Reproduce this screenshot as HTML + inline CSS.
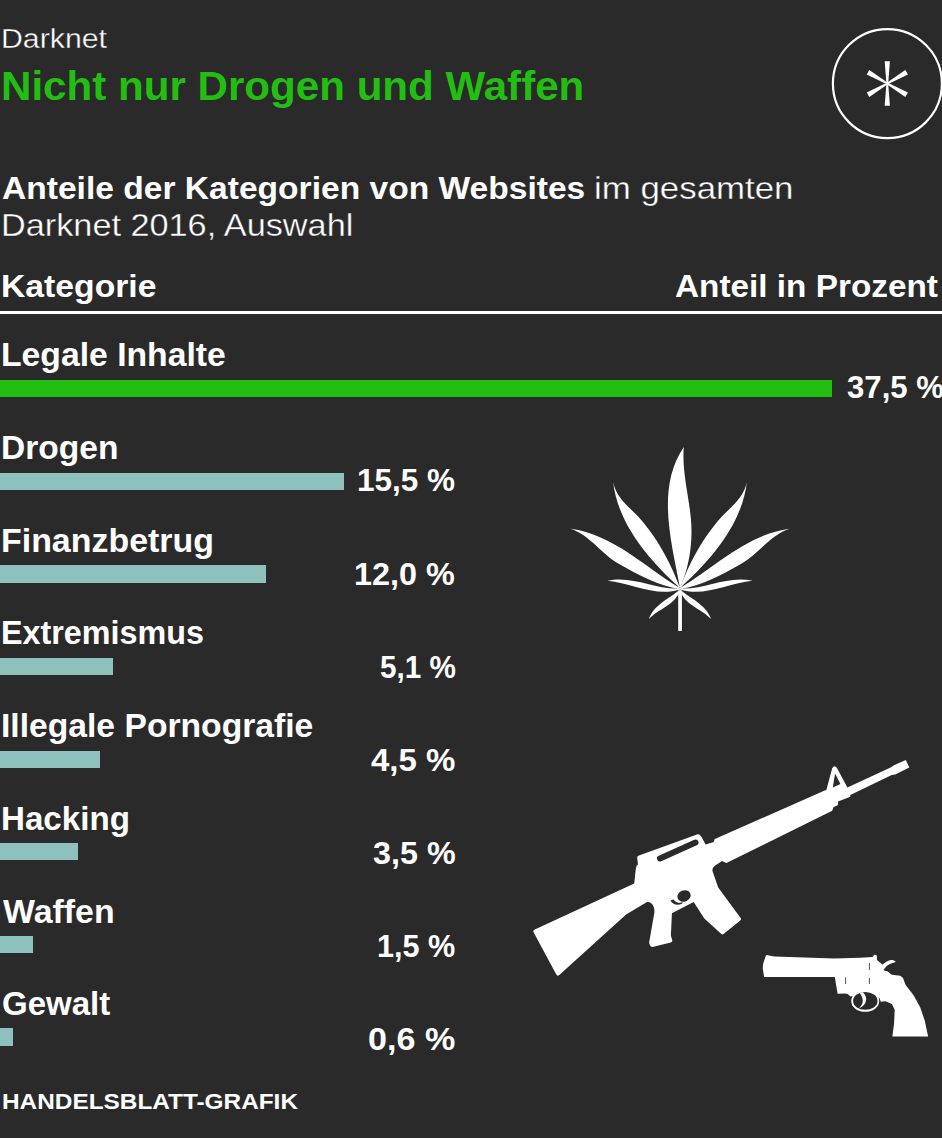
<!DOCTYPE html>
<html><head><meta charset="utf-8"><title>Darknet</title>
<style>
html,body{margin:0;padding:0;}
body{width:942px;height:1138px;background:#2a2a2a;position:relative;overflow:hidden;font-family:"Liberation Sans",sans-serif;color:#fff;}
.t{position:absolute;white-space:nowrap;line-height:1;transform-origin:0 0;}
.b{font-weight:700;}
.r{font-weight:400;-webkit-text-stroke:0.35px #2a2a2a;}
.bar{position:absolute;left:0;}
svg{position:absolute;left:0;top:0;}
</style></head><body>
<div class="t r" id="hd" style="left:0.54px;top:24.23px;font-size:28.20px;color:#fff;transform:scaleX(1.0743)">Darknet</div>
<div class="t b" id="title" style="left:1.26px;top:65.66px;font-size:40.40px;color:#22be12;transform:scaleX(1.0427)">Nicht nur Drogen und Waffen</div>
<div class="t b" id="sub1" style="left:1.93px;top:173.22px;font-size:31.50px;color:#fff;transform:scaleX(1.0657)">Anteile der Kategorien von Websites</div>
<div class="t r" id="sub1b" style="left:594.34px;top:173.22px;font-size:31.50px;color:#fff;transform:scaleX(1.1062)">im gesamten</div>
<div class="t r" id="sub2" style="left:0.82px;top:210.12px;font-size:31.50px;color:#fff;transform:scaleX(1.0875)">Darknet 2016, Auswahl</div>
<div class="t b" id="kat" style="left:1.01px;top:271.23px;font-size:31.50px;color:#fff;transform:scaleX(1.0700)">Kategorie</div>
<div class="t b" id="ant" style="left:674.78px;top:271.23px;font-size:31.50px;color:#fff;transform:scaleX(1.0581)">Anteil in Prozent</div>
<div class="t b" id="lab0" style="left:1.25px;top:339.18px;font-size:32.50px;color:#fff;transform:scaleX(1.0373)">Legale Inhalte</div>
<div class="t b" id="lab1" style="left:1.25px;top:431.93px;font-size:32.50px;color:#fff;transform:scaleX(1.0325)">Drogen</div>
<div class="t b" id="lab2" style="left:1.24px;top:524.67px;font-size:32.50px;color:#fff;transform:scaleX(1.0438)">Finanzbetrug</div>
<div class="t b" id="lab3" style="left:1.31px;top:617.42px;font-size:32.50px;color:#fff;transform:scaleX(0.9941)">Extremismus</div>
<div class="t b" id="lab4" style="left:1.26px;top:710.17px;font-size:32.50px;color:#fff;transform:scaleX(1.0353)">Illegale Pornografie</div>
<div class="t b" id="lab5" style="left:1.27px;top:802.92px;font-size:32.50px;color:#fff;transform:scaleX(1.0196)">Hacking</div>
<div class="t b" id="lab6" style="left:3.33px;top:895.67px;font-size:32.50px;color:#fff;transform:scaleX(1.0416)">Waffen</div>
<div class="t b" id="lab7" style="left:2.28px;top:988.42px;font-size:32.50px;color:#fff;transform:scaleX(1.0154)">Gewalt</div>
<div class="t b" id="val0" style="left:846.59px;top:372.37px;font-size:31.80px;color:#fff;transform:scaleX(0.9799)">37,5 %</div>
<div class="t b" id="val1" style="left:357.03px;top:465.21px;font-size:31.80px;color:#fff;transform:scaleX(0.9902)">15,5 %</div>
<div class="t b" id="val2" style="left:354.26px;top:558.80px;font-size:31.80px;color:#fff;transform:scaleX(1.0178)">12,0 %</div>
<div class="t b" id="val3" style="left:379.57px;top:651.94px;font-size:31.80px;color:#fff;transform:scaleX(0.9334)">5,1 %</div>
<div class="t b" id="val4" style="left:370.88px;top:745.08px;font-size:31.80px;color:#fff;transform:scaleX(1.0382)">4,5 %</div>
<div class="t b" id="val5" style="left:372.70px;top:838.22px;font-size:31.80px;color:#fff;transform:scaleX(1.0161)">3,5 %</div>
<div class="t b" id="val6" style="left:377.16px;top:931.36px;font-size:31.80px;color:#fff;transform:scaleX(0.9626)">1,5 %</div>
<div class="t b" id="val7" style="left:368.06px;top:1024.05px;font-size:31.80px;color:#fff;transform:scaleX(1.0724)">0,6 %</div>
<div class="t b" id="foot" style="left:1.82px;top:1091.30px;font-size:22.00px;color:#fff;transform:scaleX(1.1076)">HANDELSBLATT-GRAFIK</div>
<div style="position:absolute;left:0;top:310.80px;width:942px;height:3.00px;background:#fff"></div>
<div class="bar" style="top:380.20px;width:832.12px;height:17.20px;background:#22be12"></div>
<div class="bar" style="top:472.80px;width:343.94px;height:17.20px;background:#8ec0be"></div>
<div class="bar" style="top:565.40px;width:266.28px;height:17.20px;background:#8ec0be"></div>
<div class="bar" style="top:658.00px;width:113.17px;height:17.20px;background:#8ec0be"></div>
<div class="bar" style="top:750.60px;width:99.86px;height:17.20px;background:#8ec0be"></div>
<div class="bar" style="top:843.20px;width:77.67px;height:17.20px;background:#8ec0be"></div>
<div class="bar" style="top:935.80px;width:33.29px;height:17.20px;background:#8ec0be"></div>
<div class="bar" style="top:1028.40px;width:13.31px;height:17.20px;background:#8ec0be"></div>
<svg width="942" height="1138" viewBox="0 0 942 1138">
<circle cx="887.4" cy="83.6" r="54.5" fill="none" stroke="#fff" stroke-width="2.2"/>
<g fill="#fff">
<g transform="translate(887.3 83.5)">
<path d="M-2.6,-22.3 L2.6,-22.3 L0.9,0 L-0.9,0 Z" transform="rotate(0)"/>
<path d="M-2.6,-22.3 L2.6,-22.3 L0.9,0 L-0.9,0 Z" transform="rotate(60)"/>
<path d="M-2.6,-22.3 L2.6,-22.3 L0.9,0 L-0.9,0 Z" transform="rotate(120)"/>
<path d="M-2.6,-22.3 L2.6,-22.3 L0.9,0 L-0.9,0 Z" transform="rotate(180)"/>
<path d="M-2.6,-22.3 L2.6,-22.3 L0.9,0 L-0.9,0 Z" transform="rotate(240)"/>
<path d="M-2.6,-22.3 L2.6,-22.3 L0.9,0 L-0.9,0 Z" transform="rotate(300)"/>
</g>
<path d="M680.00,588.00 C671.26,564.24 659.30,542.00 643.40,522.50 C632.76,509.45 616.66,499.66 613.10,482.00 L613.10,482.00 C618.13,524.61 649.31,560.29 680.00,588.00 Z"/>
<path d="M680.00,588.00 C688.74,564.24 700.70,542.00 716.60,522.50 C727.24,509.45 743.34,499.66 746.90,482.00 L746.90,482.00 C741.87,524.61 710.69,560.29 680.00,588.00 Z"/>
<path d="M680.00,588.00 C644.66,566.83 613.07,534.32 570.40,528.70 L570.40,528.70 C590.12,535.09 601.52,554.18 619.10,564.00 C638.12,574.63 657.96,585.90 680.00,589.00 Z"/>
<path d="M680.00,588.00 C715.34,566.83 746.93,534.32 789.60,528.70 L789.60,528.70 C769.88,535.09 758.48,554.18 740.90,564.00 C721.88,574.63 702.04,585.90 680.00,589.00 Z"/>
<path d="M680.00,588.40 C655.28,589.97 632.29,574.94 607.40,580.80 L607.40,580.80 C631.53,583.12 655.66,597.33 680.00,589.50 Z"/>
<path d="M680.00,588.40 C704.72,589.97 727.71,574.94 752.60,580.80 L752.60,580.80 C728.47,583.12 704.34,597.33 680.00,589.50 Z"/>
<path d="M680.00,589.50 C669.37,598.82 654.17,604.31 648.90,619.00 L648.90,619.00 C658.81,608.89 674.35,605.08 680.00,591.00 Z"/>
<path d="M680.00,589.50 C690.63,598.82 705.83,604.31 711.10,619.00 L711.10,619.00 C701.19,608.89 685.65,605.08 680.00,591.00 Z"/>
<path d="M680.00,588.00 C671.73,542.89 655.72,488.35 683.80,447.00 L683.80,447.00 C681.41,475.65 691.44,502.83 691.50,531.30 C691.54,550.64 687.85,570.31 680.00,588.00 Z"/>
<path d="M678.2,587 L681.9,587 L681.9,631 L678.2,631 Z M677.5,588.5 A2.5,2.5 0 1 0 682.5,588.5 A2.5,2.5 0 1 0 677.5,588.5 Z"/>
<path fill-rule="evenodd" d="M534.8,929.5 L634.2,883.4 L635.7,870 L636.5,865.7 L638,864.4 L637.2,858 Q637,856 639,855.4 L697,834.5 Q699.5,833.7 701.1,836.3 L705.6,844.5 L713.8,841.9 L714.5,839.3 L716,838.6 L825.2,790.3 L826.3,790.3 L832.2,768.2 Q834.5,764.5 836.8,767.8 L847.4,787.4 L890.6,767.5 L894.1,765.2 L905.8,759.9 L909.3,767.5 L895.2,774.5 L891.7,775.1 L850.3,795 L850.3,796.7 L838,801.4 L838,804.9 L833.4,807.2 L832.2,810.7 L726.4,863.1 L722,860.9 L714.5,866.1 Q711.8,868.5 712.5,871 L718.2,887.6 L739.9,916.9 Q742,919 740,920.8 L723.5,934 Q722,935 720.8,933.6 L704.3,918.6 L693.7,902.1 L671.9,913.2 L670.9,935.5 L672.2,940 Q672.8,942 670.8,942.4 L653.5,946.8 Q651,947.5 649.8,945 L649.1,942.8 L654.3,913 C655.2,906 651,900.8 646.5,902.3 L626.1,914.6 L559.3,974.9 Q557.5,976.6 556.3,974.5 L533.6,932.3 Q532.6,930.4 534.8,929.5 Z M832.8,787.4 L835.1,773.4 L840.4,783.9 Z"/>
<line x1="660" y1="858.5" x2="695.5" y2="842.5" stroke="#2a2a2a" stroke-width="6" stroke-linecap="round"/>
<ellipse cx="684" cy="896" rx="6.8" ry="5.6" transform="rotate(-22 684 896)" fill="#2a2a2a"/>
<path fill="#2a2a2a" d="M670.3,900.5 L673.5,899.4 C675.5,902.3 679,903.5 683,902.3 L682,903.7 C677.5,905.8 672.5,904.5 670.3,900.5 Z"/>
<path d="M764.1,977 L762.7,968 L763.1,964.1 L765.5,956.5 L766.5,955 L774.1,956.5 L834.3,958.4 L860,957.7 L872.7,956.9 L874.1,954.8 L876.7,955.1 L877,960.1 L882.3,964.4 L882.8,964.6 C884.5,963 887.5,960.5 890.8,960.1 C892.5,959.9 894.5,960.3 895.8,961.7 C894.5,962.5 893,962.8 891.8,963.3 C888.5,964.5 885.5,966.5 883.4,970.3 L887.6,971.5 L891.8,974.7 L900.3,975.8 L903,977.9 L905.6,985 L913.6,995.2 L920.3,1007.4 L924.8,1020.8 L928.1,1036.4 L892.4,1036.4 L894.1,1023 L894.7,1009.7 L891.9,1004.1 L885.6,1001.2 L880.8,1001.7 L879.4,997.9 L865,993.5 L850.3,996.5 L847.9,994.1 L845,993.6 L837.6,993.7 L834.8,977 Z"/>
<ellipse cx="865.2" cy="1001" rx="14" ry="10.8"/>
<ellipse cx="865.3" cy="1000.9" rx="12.2" ry="8.9" fill="#2a2a2a"/>
<path d="M859.5,992.2 L863,992.4 C866,995 867,999 865.5,1002.5 C864,1006 861,1007.5 859.3,1007.9 C862,1005 863.5,1002 862.5,998.5 C861.8,996 860.5,994 859.5,992.2 Z"/>
<g stroke="#2a2a2a" stroke-width="1" opacity="0.8"><line x1="869.4" y1="963" x2="869.4" y2="970"/><line x1="869.4" y1="978" x2="869.4" y2="984"/><line x1="845.6" y1="977.3" x2="845.6" y2="984"/></g>
</g>
</svg>
</body></html>
